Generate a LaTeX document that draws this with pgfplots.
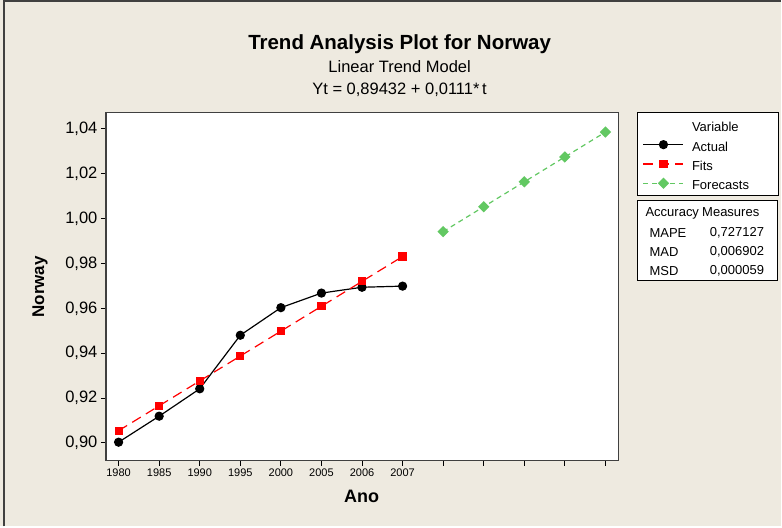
\documentclass[border=0pt]{standalone}
\usepackage{pgfplots}
\pgfplotsset{compat=1.18}
\usepackage{fontspec}
\setmainfont{Liberation Sans}
\definecolor{bg}{RGB}{238,234,224}
\definecolor{fgreen}{RGB}{98,200,98}
\definecolor{frame}{RGB}{64,64,64}
\begin{document}
\begin{tikzpicture}[x=1pt,y=1pt]
\fill[bg] (0,0) rectangle (782,527);
\draw[frame, line width=1.5pt] (4,0) -- (4,526) -- (782,526);
\node[font=\fontsize{20.5}{24}\selectfont\bfseries] at (400,483) {Trend Analysis Plot for Norway};
\node[font=\fontsize{16.5}{20}\selectfont] at (400,460) {Linear Trend Model};
\node[font=\fontsize{16.5}{20}\selectfont] at (400,437) {Yt = 0,89432 + 0,0111*\,t};
\begin{axis}[at={(106pt,66pt)}, anchor=south west, scale only axis,
  width=513pt, height=348.5pt,
  xmin=0.687, xmax=13.32, ymin=0.8921, ymax=1.0474,
  axis background/.style={fill=white},
  axis line style={frame, line width=1.3pt},
  xtick={1,2,3,4,5,6,7,8,9,10,11,12,13},
  xticklabels={1980,1985,1990,1995,2000,2005,2006,2007,,,,,},
  ytick={0.90,0.92,0.94,0.96,0.98,1.00,1.02,1.04},
  tick align=outside, xtick pos=left, ytick pos=left,
  major tick length=5pt,
  tick style={black, line width=1pt},
  yticklabel style={font=\fontsize{16.5}{19}\selectfont,
    /pgf/number format/use comma, /pgf/number format/fixed,
    /pgf/number format/fixed zerofill, /pgf/number format/precision=2,
    /pgf/number format/assume math mode=true},
  xticklabel style={font=\fontsize{11}{13}\selectfont},
  xlabel={Ano}, ylabel={Norway},
  xlabel style={font=\fontsize{18}{21}\selectfont\bfseries, at={(axis description cs:0.499,-0.1033)}, anchor=center},
  ylabel style={font=\fontsize{17}{20}\selectfont\bfseries, at={(axis description cs:-0.1287,0.499)}, anchor=center},
  legend cell align=left,
  legend style={at={(1.037,1)}, anchor=north west, draw=black, line width=1pt, fill=white,
    font=\fontsize{13}{15}\selectfont, row sep=3.3pt, column sep=8pt,
    inner xsep=5pt, inner ysep=4.5pt,
    nodes={inner sep=0pt, text height=14.5pt, text depth=1.5pt}},
  legend image code/.code={\draw[mark repeat=2,mark phase=2,#1] plot coordinates {(0pt,0pt) (20pt,0pt) (40pt,0pt)};},
]
\addlegendimage{empty legend}
\addplot[black, line width=1.2pt, mark=*, mark size=4pt, mark options={solid}]
  coordinates {(1,0.9003)(2,0.9119)(3,0.9241)(4,0.9480)(5,0.9603)(6,0.9668)(7,0.9694)(8,0.9699)};
\addplot[red, line width=1.2pt, dash pattern=on 10pt off 6pt, mark=square*, mark size=3.5pt, mark options={solid}]
  coordinates {(1,0.90542)(2,0.91652)(3,0.92762)(4,0.93872)(5,0.94982)(6,0.96092)(7,0.97202)(8,0.98312)};
\addplot[fgreen, line width=1.2pt, dash pattern=on 5pt off 4pt, mark=square*, mark size=3.4pt, mark options={solid, rotate=45}]
  coordinates {(9,0.99422)(10,1.00532)(11,1.01642)(12,1.02752)(13,1.03862)};
\legend{Variable, Actual, Fits, \makebox[82pt][l]{Forecasts}}
\end{axis}
\draw[black, line width=1pt, fill=white] (638,246) rectangle (778,326);
\begin{scope}[every node/.style={font=\fontsize{13}{15}\selectfont, inner sep=0pt}]
\node[anchor=west] at (646,313) {Accuracy\hspace{0.25em}Measures};
\node[anchor=west] at (650,294) {MAPE};
\node[anchor=west] at (650,275) {MAD};
\node[anchor=west] at (650,256) {MSD};
\node[anchor=east] at (765,294) {0,727127};
\node[anchor=east] at (765,275) {0,006902};
\node[anchor=east] at (765,256) {0,000059};
\end{scope}
\end{tikzpicture}
\end{document}
